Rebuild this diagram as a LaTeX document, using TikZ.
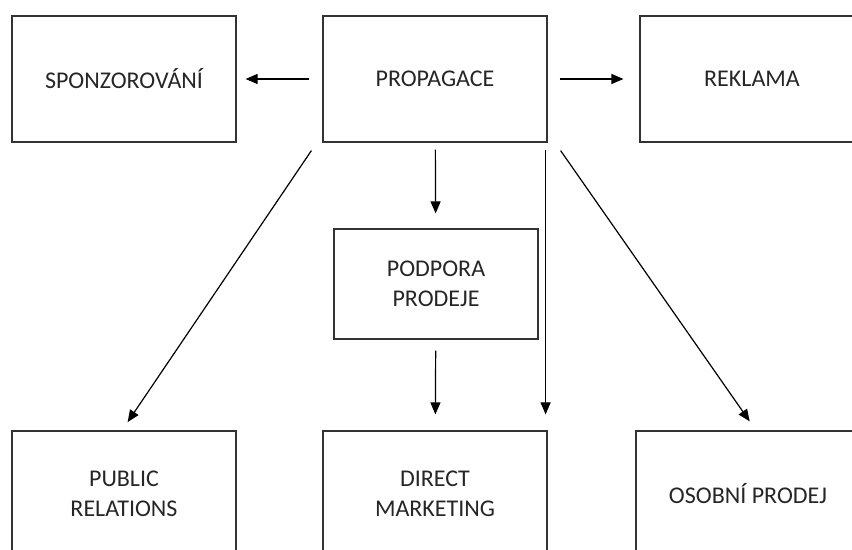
\documentclass[tikz,border=0pt]{standalone}
\usepackage{fontspec}
\setmainfont{Carlito}
\usepackage{tikz}
\usetikzlibrary{arrows.meta}

\tikzset{
  box/.style={draw=black!80, line width=0.6pt, minimum width=112pt, minimum height=63pt,
    inner sep=0pt, align=center, text=black!85, font=\fontsize{12}{15}\selectfont},
  arr/.style={draw=black, line width=0.6pt, -{Triangle[length=6pt,width=5pt]}}
}

\begin{document}
\begin{tikzpicture}[x=0.5pt,y=-0.5pt]

            % page frame, boxes at the edges are cut
            \useasboundingbox (0,0) rectangle (852,550);
            \clip (0,0) rectangle (852,550);

            % top row
            \node[box] (sponz) at (124,79) {SPONZOROVÁNÍ};
            \node[box] (prop) at (435,79) {PROPAGACE};
            \node[box] (rekl) at (752,79) {REKLAMA};

            % middle box
            \node[box, minimum width=102pt, minimum height=55pt] (podp) at (436,284) {PODPORA\\PRODEJE};

            % bottom row
            \node[box] (public) at (124,494) {PUBLIC\\RELATIONS};
            \node[box] (direct) at (435,494) {DIRECT\\MARKETING};
            \node[box] (osob) at (748,494) {OSOBNÍ PRODEJ};

            % side arrows
            \draw[arr, shorten <=6.5pt, shorten >=4.5pt] (prop) -- (sponz);
            \draw[arr, shorten <=6pt, shorten >=8pt] (prop) -- (rekl);

            % down through podpora prodeje
            \draw[arr, shorten <=3.5pt, shorten >=7.5pt] (prop) -- (podp);
            \draw[arr, shorten <=5.5pt, shorten >=8pt] (podp) -- (direct);

            % straight down to direct marketing
            \draw[arr, shorten <=3.5pt, shorten >=8pt] ([xshift=-1pt]prop.south east) -- ([xshift=-1pt]direct.north east);

            % diagonals
            \draw[arr, shorten >=5pt] ([xshift=-5.5pt,yshift=-4pt]prop.south west) -- ([xshift=-1pt]public.north);
            \draw[arr, shorten >=5.5pt] ([xshift=6.5pt,yshift=-4pt]prop.south east) -- ([xshift=4pt]osob.north);
        \end{tikzpicture}
\end{document}
